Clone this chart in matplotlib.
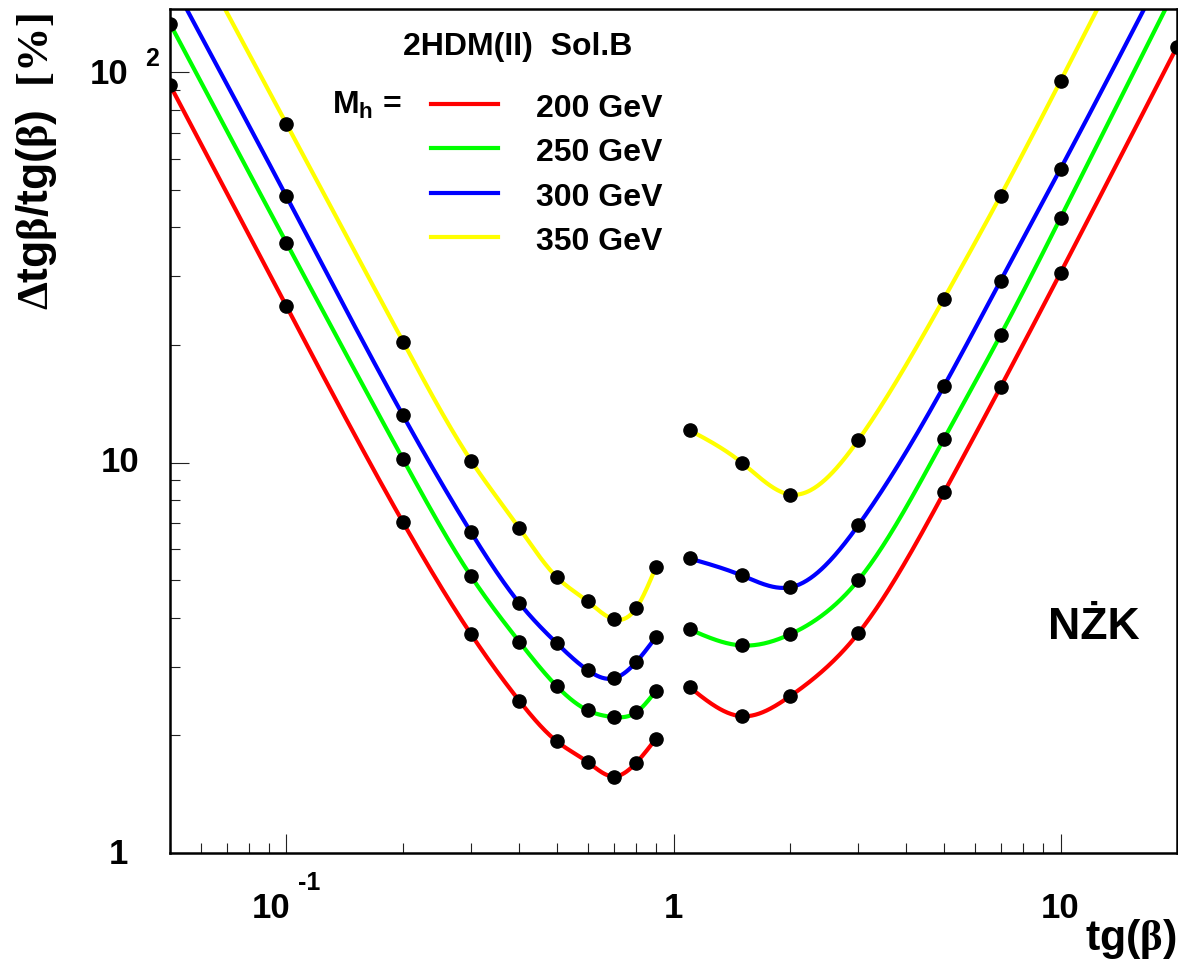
import numpy as np
import matplotlib.pyplot as plt
from matplotlib import transforms as mtransforms
from matplotlib.lines import Line2D

plt.rcParams['font.family'] = ['Liberation Sans', 'DejaVu Sans']
plt.rcParams['font.weight'] = 'bold'
plt.rcParams['mathtext.fontset'] = 'custom'
plt.rcParams['mathtext.rm'] = 'Liberation Serif'
plt.rcParams['mathtext.bf'] = 'Liberation Sans:bold'
plt.rcParams['mathtext.it'] = 'Liberation Serif:italic'

# tg(beta) points, two branches (below / above 1)
tgb_lo = [0.05, 0.1, 0.2, 0.3, 0.4, 0.5, 0.6, 0.7, 0.8, 0.9]
tgb_hi = [1.1, 1.5, 2, 3, 5, 7, 10, 20]

# relative error [%] for each Higgs mass
err_200_lo = [92.6, 25.1, 7.03, 3.63, 2.45, 1.93, 1.71, 1.57, 1.70, 1.96]
err_200_hi = [2.66, 2.24, 2.52, 3.65, 8.38, 15.6, 30.6, 116]
err_250_lo = [133, 36.5, 10.2, 5.11, 3.47, 2.67, 2.32, 2.23, 2.29, 2.60]
err_250_hi = [3.74, 3.40, 3.63, 4.99, 11.5, 21.2, 42.3, 166]
err_300_lo = [174, 48.0, 13.2, 6.62, 4.36, 3.44, 2.94, 2.80, 3.08, 3.57]
err_300_hi = [5.68, 5.14, 4.79, 6.90, 15.7, 29.2, 56.5, 211]
err_350_lo = [266, 73.6, 20.4, 10.1, 6.78, 5.08, 4.41, 3.97, 4.23, 5.39]
err_350_hi = [12.1, 10.0, 8.28, 11.4, 26.3, 48.2, 94.8, 366]

masses = ['200 GeV', '250 GeV', '300 GeV', '350 GeV']
colors = ['#ff0000', '#00ff00', '#0000ff', '#ffff00']
series = [(err_200_lo, err_200_hi), (err_250_lo, err_250_hi),
          (err_300_lo, err_300_hi), (err_350_lo, err_350_hi)]


def smooth(x, y, n=400):
    # natural cubic spline in log-log space (like ROOT's "C" option)
    u = np.log10(x)
    v = np.log10(y)
    N = len(u)
    h = np.diff(u)
    A = np.zeros((N, N))
    r = np.zeros(N)
    A[0, 0] = A[-1, -1] = 1
    for i in range(1, N - 1):
        A[i, i - 1] = h[i - 1]
        A[i, i] = 2 * (h[i - 1] + h[i])
        A[i, i + 1] = h[i]
        r[i] = 6 * ((v[i + 1] - v[i]) / h[i] - (v[i] - v[i - 1]) / h[i - 1])
    M = np.linalg.solve(A, r)
    uu = np.linspace(u[0], u[-1], n)
    k = np.clip(np.searchsorted(u, uu) - 1, 0, N - 2)
    a = u[k + 1] - uu
    b = uu - u[k]
    hk = h[k]
    vv = (M[k] * a**3 + M[k + 1] * b**3) / (6 * hk) \
        + (v[k] / hk - M[k] * hk / 6) * a + (v[k + 1] / hk - M[k + 1] * hk / 6) * b
    return 10**uu, 10**vv


W, H = 1178, 961
fig = plt.figure(figsize=(W / 100, H / 100), dpi=100)
L, R, T, B = 170, 1177, 9, 853
ax = fig.add_axes([L / W, 1 - B / H, (R - L) / W, (B - T) / H])
ax.set_xscale('log')
ax.set_yscale('log')
ax.set_xlim(0.05, 20)
ax.set_ylim(1, 145)

for (lo, hi), c in zip(series, colors):
    for xs, ys in ((tgb_lo, lo), (tgb_hi, hi)):
        sx, sy = smooth(xs, ys)
        ax.plot(sx, sy, color=c, lw=3, zorder=2)
        ax.plot(xs, ys, 'o', color='black', ms=9.5, zorder=3)

for s in ax.spines.values():
    s.set_linewidth(1.8)
ax.tick_params(which='both', direction='in', top=False, right=False,
               labelbottom=False, labelleft=False, width=0.8, color='#222222')
ax.tick_params(which='major', length=14)
ax.tick_params(which='minor', length=7)


def lab(x, y, s, dx, dy, size, ha='center', va='center'):
    tr = mtransforms.offset_copy(ax.transData, fig=fig, x=dx, y=dy, units='dots')
    ax.text(x, y, s, transform=tr, ha=ha, va=va, size=size,
            fontweight='bold', clip_on=False)


# axis tick labels (ROOT style)
lab(0.1, 1, '10', -15, -56, 25)
lab(0.1, 1, '-1', 23, -30, 18)
lab(1, 1, '1', 0, -56, 25)
lab(10, 1, '10', 0, -56, 25)
lab(0.05, 1, '1', -52, -2, 25)
lab(0.05, 10, '10', -50, 0, 25)
lab(0.05, 100, '10', -61, -2, 25)
lab(0.05, 100, '2', -18, 13, 18)


def px(x, y):
    return x / W, 1 - y / H


fig.text(*px(37, 13), r'$\mathrm{\Delta}\mathbf{tg}\mathrm{\beta}\mathbf{/tg(}\mathrm{\beta}\mathbf{)}\ \ \mathrm{[\%]}$',
         rotation=90, ha='center', va='top', size=32)
fig.text(*px(1177, 961), r'$\mathbf{tg(}\mathrm{\beta}\mathbf{)}$',
         ha='right', va='bottom', size=31)

fig.text(*px(518, 55), '2HDM(II)  Sol.B', ha='center', va='baseline',
         size=23, fontweight='bold')
fig.text(*px(332, 114), r'$\mathbf{M_h}$ =', ha='left', va='baseline',
         size=23, fontweight='bold')
for i, (m, c) in enumerate(zip(masses, colors)):
    yl = 104 + 44.3 * i
    fig.add_artist(Line2D([431 / W, 498 / W], [1 - yl / H, 1 - yl / H],
                          color=c, lw=3))
    fig.text(*px(536, yl + 13), m, ha='left', va='baseline',
             size=23, fontweight='bold')

fig.text(*px(1048, 639), 'NŻK', ha='left', va='baseline',
         size=32, fontweight='bold')

fig.savefig('out.png', dpi=100)
